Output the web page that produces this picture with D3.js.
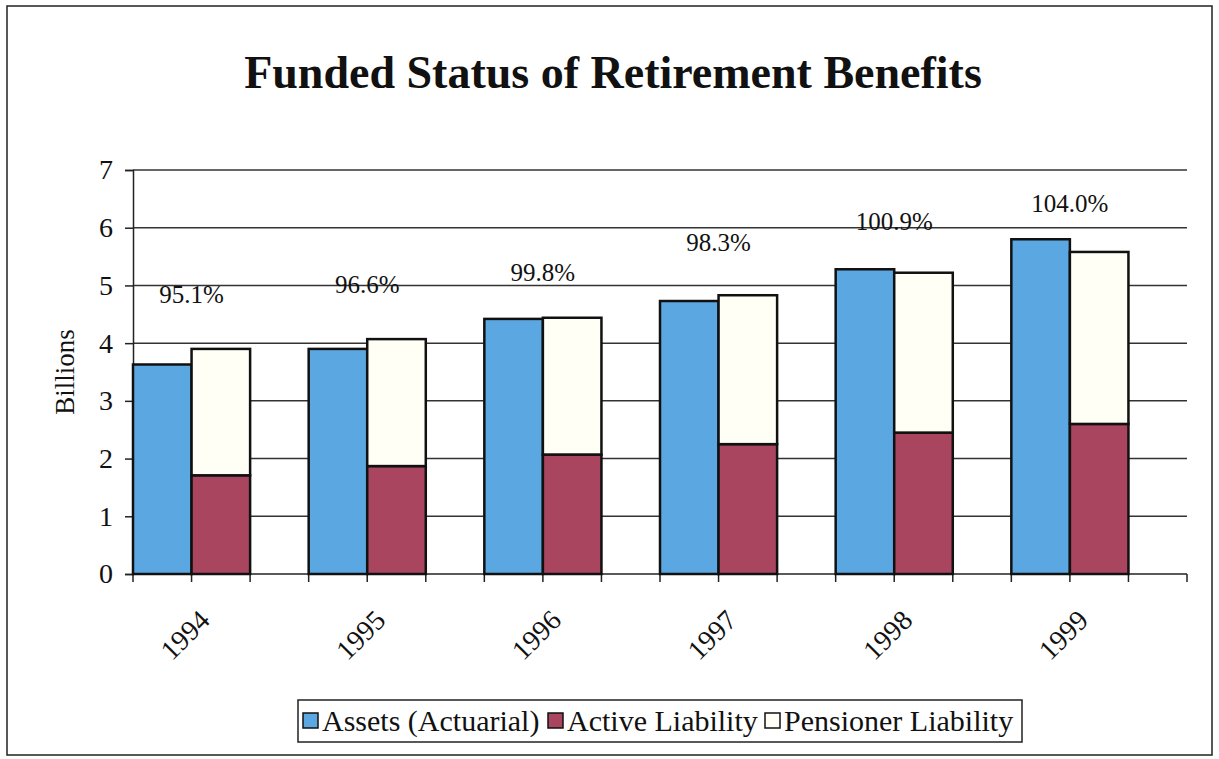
<!DOCTYPE html>
<html>
<head>
<meta charset="utf-8">
<script src="https://cdn.jsdelivr.net/npm/d3@7"></script>
<style>
  body { margin: 0; background: #fff; }
</style>
</head>
<body>
<div id="chart"></div>
<script>
// data (billions)
var years = ["1994", "1995", "1996", "1997", "1998", "1999"];
var assets = [3.63, 3.90, 4.42, 4.73, 5.28, 5.80];
var activeLiab = [1.71, 1.87, 2.07, 2.25, 2.45, 2.60];
var pensionerLiab = [2.19, 2.20, 2.37, 2.58, 2.77, 2.98];
var fundedLabels = ["95.1%", "96.6%", "99.8%", "98.3%", "100.9%", "104.0%"];
var labelLevels = [4.85, 5.02, 5.22, 5.75, 6.12, 6.42];
var yTicks = [0, 1, 2, 3, 4, 5, 6, 7];
var seriesNames = ["Assets (Actuarial)", "Active Liability", "Pensioner Liability"];
var seriesColors = ["#5ba7e1", "#a9455f", "#fffff6"];

var W = 1219, H = 759;
var mLeft = 133, mRight = 1187, mTop = 170, mBottom = 574;
var serif = "'Liberation Serif', 'Times New Roman', Times, serif";

var svg = d3.select("#chart").append("svg")
  .attr("width", W)
  .attr("height", H)
  .attr("font-family", serif);

// outer frame
svg.append("rect")
  .attr("x", 7).attr("y", 6)
  .attr("width", 1205).attr("height", 749)
  .style("fill", "none").style("stroke", "#222").style("stroke-width", 1.5);

svg.append("text")
  .attr("x", 613).attr("y", 88)
  .attr("text-anchor", "middle")
  .style("font-family", serif)
  .style("font-size", "46px").style("font-weight", "bold")
  .style("fill", "#111")
  .text("Funded Status of Retirement Benefits");

var x = d3.scaleBand().domain(years).range([mLeft, mRight]).padding(0);
var slot = x.bandwidth() / 3;
var y = d3.scaleLinear().domain([0, 7]).range([mBottom, mTop]);

// gridlines
svg.append("g").selectAll("line")
  .data(yTicks.filter(d => d > 0))
  .join("line")
  .attr("x1", mLeft).attr("x2", mRight)
  .attr("y1", d => y(d)).attr("y2", d => y(d))
  .style("stroke", "#333").style("stroke-width", 1.5);

// y axis
var yAxis = d3.axisLeft(y).tickValues(yTicks).tickSize(8).tickPadding(12).tickFormat(d3.format("d"));
var gy = svg.append("g").attr("transform", "translate(" + mLeft + ",0)").call(yAxis);
gy.attr("font-family", serif).attr("font-size", 28);
gy.select(".domain").style("stroke", "#222").style("stroke-width", 1.5);
gy.selectAll(".tick line").style("stroke", "#222").style("stroke-width", 1.5);
gy.selectAll("text").style("font-family", serif).style("font-size", "28px").style("fill", "#111");

svg.append("text")
  .attr("transform", "translate(74," + y(3.5) + ") rotate(-90)")
  .attr("text-anchor", "middle")
  .style("font-family", serif)
  .style("font-size", "27px")
  .style("fill", "#111")
  .text("Billions");

// x axis baseline and slot ticks
svg.append("line")
  .attr("x1", mLeft).attr("x2", mRight)
  .attr("y1", y(0)).attr("y2", y(0))
  .style("stroke", "#222").style("stroke-width", 1.5);

var slotTicks = d3.range(years.length * 3 + 1).map(i => mLeft + i * slot);
svg.append("g").selectAll("line")
  .data(slotTicks)
  .join("line")
  .attr("x1", d => d).attr("x2", d => d)
  .attr("y1", y(0)).attr("y2", y(0) + 8)
  .style("stroke", "#222").style("stroke-width", 1.5);

// bars
var bars = svg.append("g");
years.forEach(function(yr, i) {
  var x0 = x(yr);
  bars.append("rect")
    .attr("x", x0).attr("y", y(assets[i]))
    .attr("width", slot).attr("height", y(0) - y(assets[i]))
    .style("fill", seriesColors[0]).style("stroke", "#111").style("stroke-width", 2.5);
  bars.append("rect")
    .attr("x", x0 + slot).attr("y", y(activeLiab[i]))
    .attr("width", slot).attr("height", y(0) - y(activeLiab[i]))
    .style("fill", seriesColors[1]).style("stroke", "#111").style("stroke-width", 2.5);
  var tot = activeLiab[i] + pensionerLiab[i];
  bars.append("rect")
    .attr("x", x0 + slot).attr("y", y(tot))
    .attr("width", slot).attr("height", y(activeLiab[i]) - y(tot))
    .style("fill", seriesColors[2]).style("stroke", "#111").style("stroke-width", 2.5);
});

// funded ratio labels
svg.append("g").selectAll("text")
  .data(years)
  .join("text")
  .attr("x", (d, i) => x(d) + slot)
  .attr("y", (d, i) => y(labelLevels[i]))
  .attr("text-anchor", "middle")
  .attr("dy", "0.35em")
  .style("font-family", serif)
  .style("font-size", "25px")
  .style("fill", "#111")
  .text((d, i) => fundedLabels[i]);

// year labels (rotated)
svg.append("g").selectAll("text")
  .data(years)
  .join("text")
  .attr("transform", d => "translate(" + (x(d) + slot + 13) + "," + (y(0) + 41) + ") rotate(-45)")
  .attr("text-anchor", "end")
  .attr("dy", "0.35em")
  .style("font-family", serif)
  .style("font-size", "28px")
  .style("fill", "#111")
  .text(d => d);

// legend
var lg = svg.append("g");
lg.append("rect")
  .attr("x", 298).attr("y", 700)
  .attr("width", 724).attr("height", 42)
  .style("fill", "#fff").style("stroke", "#222").style("stroke-width", 1.5);
var legX = [303, 548, 765];
seriesNames.forEach(function(name, i) {
  lg.append("rect")
    .attr("x", legX[i]).attr("y", 713)
    .attr("width", 15).attr("height", 15)
    .style("fill", seriesColors[i]).style("stroke", "#111").style("stroke-width", 1.5);
  lg.append("text")
    .attr("x", legX[i] + 19).attr("y", 731)
    .style("font-family", serif)
    .style("font-size", "30px")
    .style("fill", "#111")
    .text(name);
});
</script>
</body>
</html>
